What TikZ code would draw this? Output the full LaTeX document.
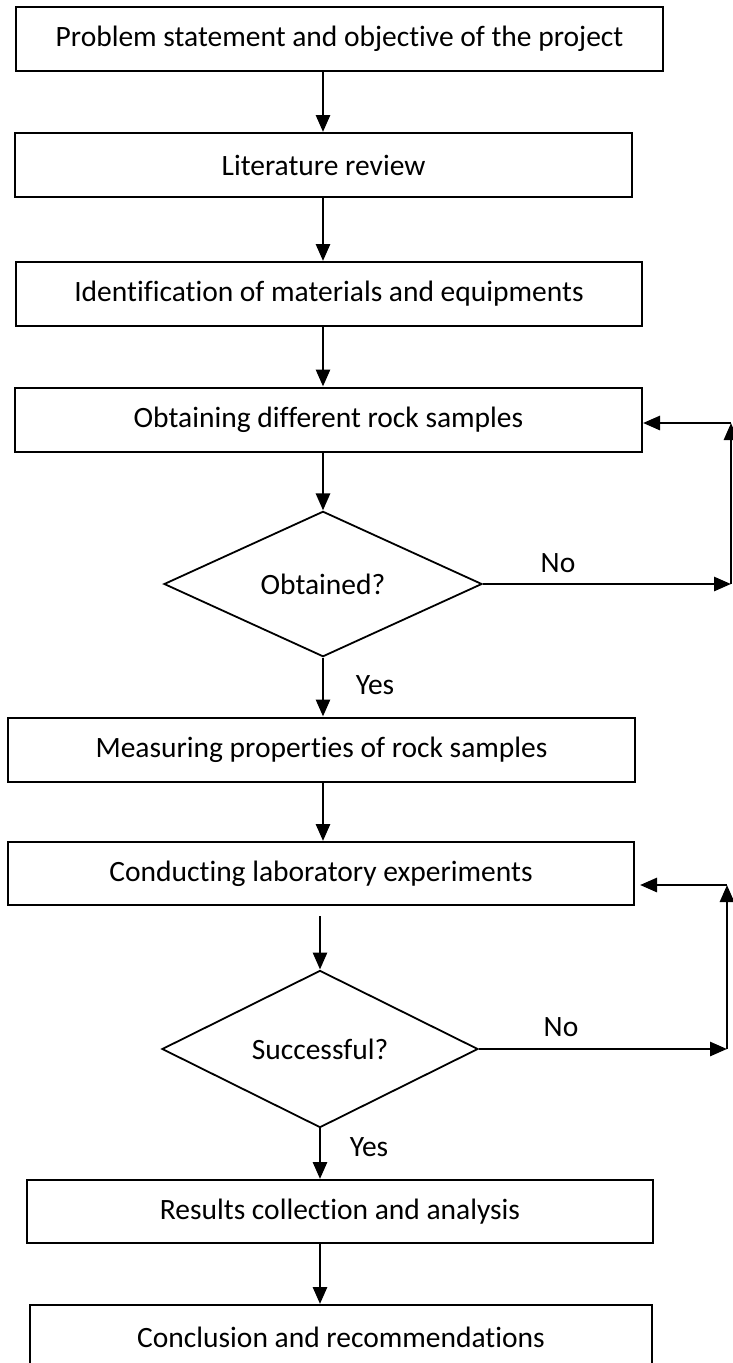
\documentclass[tikz,border=0pt]{standalone}
\usepackage{fontspec}
\setmainfont{Carlito}[Ligatures=NoCommon]
\usetikzlibrary{shapes.geometric,arrows.meta,positioning,calc}

\begin{document}
\begin{tikzpicture}[x=1pt, y=-1pt,
    procbox/.style={rectangle, draw, line width=2pt, inner sep=0pt, minimum width=#1, minimum height=64pt, font=\fontsize{29.5}{35}\selectfont},
    decbox/.style={diamond, draw, line width=1.8pt, inner sep=0pt, minimum width=#1, minimum height=143pt, font=\fontsize{29.5}{35}\selectfont},
    lbl/.style={font=\fontsize{29.5}{35}\selectfont, inner sep=0pt},
    flow/.style={-{Triangle[width=14pt,length=17pt]}, line width=2.8pt}
]
\useasboundingbox (0,0) rectangle (732,1363);

% Main chain
\node[procbox=647pt] (b1) at (339.5,39) {Problem statement and objective of the project};
\node[procbox=617pt] (b2) at (323.5,165) {Literature review};
\node[procbox=626pt] (b3) at (329,294) {Identification of materials and equipments};
\node[procbox=627pt] (b4) at (328.5,419.5) {Obtaining different rock samples};
\node[decbox=318pt] (d1) at (323,584) {Obtained?};
\node[procbox=627pt] (b5) at (321.5,749.5) {Measuring properties of rock samples};
\node[procbox=626pt, minimum height=63pt] (b6) at (321,873.5) {Conducting laboratory experiments};
\node[decbox=316pt] (d2) at (320,1049) {Successful?};
\node[procbox=626pt, minimum height=63pt] (b7) at (340,1211.5) {Results collection and analysis};
\node[procbox=622pt] (b8) at (341,1337) {Conclusion and recommendations};

% Arrows down
\draw[flow] (b1.south -| d1.north) -- (b2.north -| d1.north);
\draw[flow] (b2.south -| d1.north) -- (b3.north -| d1.north);
\draw[flow] (b3.south -| d1.north) -- (b4.north -| d1.north);
\draw[flow] (b4.south -| d1.north) -- (d1.north);
\draw[flow] (d1.south) -- (b5.north -| d1.south);
\draw[flow] (b5.south -| d1.north) -- (b6.north -| d1.north);
\draw[flow] ([yshift=-10pt]b6.south -| d2.north) -- (d2.north);
\draw[flow] (d2.south) -- (b7.north -| d2.south);
\draw[flow] (b7.south -| d2.north) -- (b8.north -| d2.north);

% Yes / No labels
\node[lbl] (yes1) at (375,685) {Yes};
\node[lbl] (no1) at (558,563) {No};
\node[lbl] (yes2) at (369,1147) {Yes};
\node[lbl] (no2) at (561,1027) {No};

% Feedback loops
\coordinate (r1b) at (731,584);
\coordinate (r1t) at (731,423);
\draw[flow] (d1.east) -- (r1b);
\draw[flow] (r1b) -- (r1t);
\draw[flow] (r1t) -- (b4.east |- r1t);

\coordinate (r2b) at (727,1049);
\coordinate (r2t) at (727,885);
\draw[flow] (d2.east) -- (r2b);
\draw[flow] (r2b) -- (r2t);
\draw[flow, shorten >=5pt] (r2t) -- (b6.east |- r2t);
\end{tikzpicture}
\end{document}
